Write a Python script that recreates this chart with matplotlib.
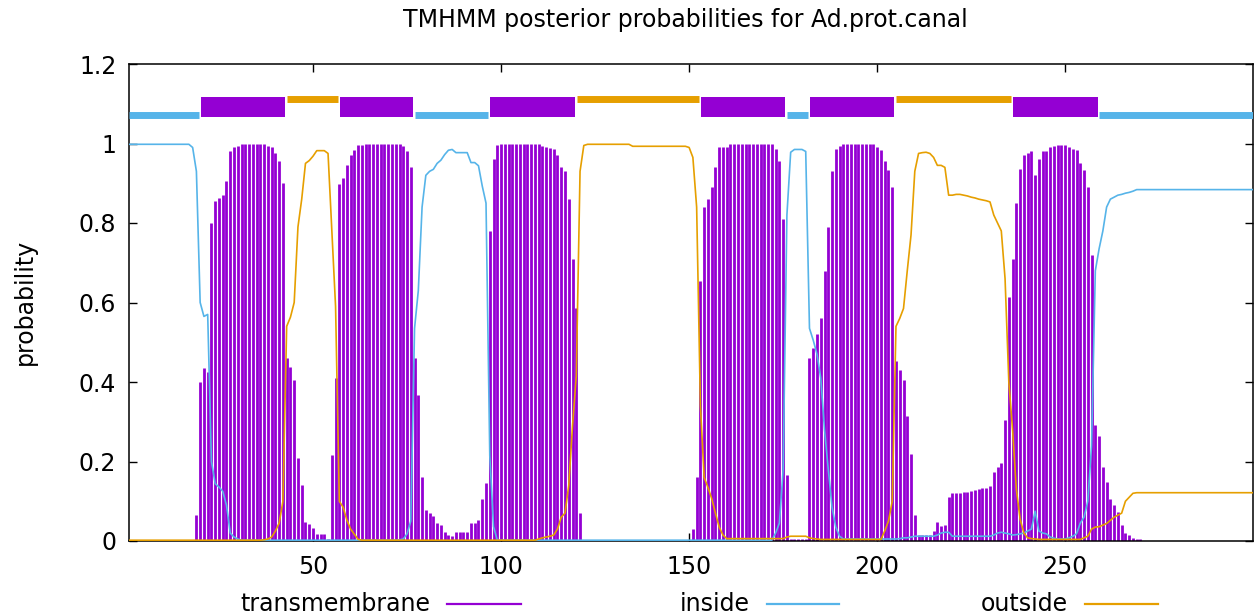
import numpy as np
import matplotlib
matplotlib.use("Agg")
import matplotlib.pyplot as plt
from matplotlib.lines import Line2D
from matplotlib.ticker import FuncFormatter

# ============================================================
# DATA  (posterior probabilities per residue, residues 1..300)
# ============================================================
TITLE = "TMHMM posterior probabilities for Ad.prot.canal"
SEQ_LEN = 300

tm_prob = [
    0, 0, 0, 0, 0, 0, 0, 0, 0, 0, 0, 0, 0, 0, 0, 0, 0, 0, .065, .40,                         # 1-20
    .434, .425, .80, .856, .864, .87, .906, .98, .99, .993, 1, 1, 1, 1, 1, 1, 1, .994, .99, .975,  # 21-40
    .956, .90, .46, .437, .406, .21, .14, .047, .043, .032, .018, .018, .018, .005, .216, .41, .897, .912, .947, .97,
    .983, .996, .997, .998, 1, 1, 1, 1, 1, 1, 1, 1, 1, .993, .98, .94, .46, .367, .16, .078,
    .07, .064, .046, .04, .023, .015, .013, .023, .023, .023, .023, .046, .046, .054, .105, .147, .78, .96, .997, 1,
    1, 1, 1, 1, 1, 1, 1, 1, 1, 1, .994, .99, .988, .985, .97, .94, .93, .86, .71, .585,      # 101-120
    .07, 0, 0, 0, 0, 0, 0, 0, 0, 0, 0, 0, 0, 0, 0, 0, 0, 0, 0, 0,
    0, 0, 0, 0, 0, 0, 0, 0, 0, 0, .03, .16, .655, .84, .86, .89, .94, .99, .99, .99,
    1, 1, 1, 1, 1, 1, 1, 1, 1, 1, 1, 1, .985, .955, .81, .165, .006, .006, .006, .006,
    .006, .46, .485, .52, .56, .68, .79, .93, .987, .993, 1, 1, 1, 1, 1, 1, 1, 1, 1, .99,
    .983, .955, .933, .89, .452, .43, .406, .315, .22, .065, .015, .015, .015, .015, .025, .047, .037, .04, .11, .122,
    .122, .122, .124, .124, .126, .128, .13, .134, .134, .139, .174, .185, .196, .304, .613, .71, .85, .935, .97, .977,
    .98, .92, .961, .98, .98, .99, .994, .997, .997, .997, .991, .987, .983, .95, .933, .89, .72, .293, .264, .186,
    .149, .105, .09, .074, .04, .02, .015, .007, .005, .004, 0, 0, 0, 0, 0, 0, 0, 0, 0, 0,
    0, 0, 0, 0, 0, 0, 0, 0, 0, 0, 0, 0, 0, 0, 0, 0, 0, 0, 0, 0,                               # 281-300
]

inside_prob = [
    .998, .998, .998, .998, .998, .998, .998, .998, .998, .998, .998, .998, .998, .998, .998, .998, .998, .99, .93, .60,
    .565, .57, .20, .144, .136, .125, .09, .02, .01, .005, .002, .002, .002, .002, .002, .002, .002, .002, .002, .002,
    .002, .002, .002, .002, .002, .002, .002, .002, .002, .002, .002, .002, .002, .002, .002, .002, .002, .002, .002, .002,
    .002, .002, .002, .002, .002, .002, .002, .002, .002, .002, .002, .002, .003, .005, .018, .05, .535, .63, .84, .92,
    .93, .935, .95, .958, .972, .983, .985, .977, .977, .977, .977, .952, .952, .944, .893, .85, .215, .036, .002, .002,
    .002, .002, .002, .002, .002, .002, .002, .002, .002, .002, .002, .002, .002, .002, .002, .002, .002, .002, .002, .002,
    .002, .002, .002, .002, .002, .002, .002, .002, .002, .002, .002, .002, .002, .002, .002, .002, .002, .002, .002, .002,
    .002, .002, .002, .002, .002, .002, .002, .002, .002, .002, .002, .002, .002, .002, .002, .002, .002, .002, .002, .002,
    .002, .002, .002, .002, .002, .002, .002, .002, .002, .002, .002, .002, .02, .045, .18, .82, .978, .985, .985, .985,
    .98, .535, .505, .47, .41, .28, .18, .085, .035, .012, .005, .005, .005, .005, .005, .005, .005, .005, .005, .005,
    .005, .005, .005, .005, .005, .006, .008, .008, .01, .012, .012, .012, .012, .012, .012, .015, .02, .022, .022, .012,
    .012, .012, .012, .012, .012, .012, .012, .012, .012, .012, .015, .02, .022, .02, .018, .015, .016, .018, .02, .025,
    .03, .075, .025, .02, .018, .01, .007, .005, .005, .005, .008, .012, .018, .045, .06, .10, .24, .68, .735, .78,
    .84, .86, .865, .87, .872, .875, .877, .88, .884, .884, .884, .884, .884, .884, .884, .884, .884, .884, .884, .884,
    .884, .884, .884, .884, .884, .884, .884, .884, .884, .884, .884, .884, .884, .884, .884, .884, .884, .884, .884, .884,
]

outside_prob = [
    .002, .002, .002, .002, .002, .002, .002, .002, .002, .002, .002, .002, .002, .002, .002, .002, .002, .002, .002, .002,
    .002, .002, .002, .002, .002, .002, .002, .002, .002, .002, .002, .002, .002, .002, .002, .002, .003, .005, .01, .025,
    .045, .10, .54, .563, .60, .79, .86, .95, .957, .968, .982, .982, .982, .975, .784, .59, .10, .085, .053, .03,
    .017, .004, .002, .002, .002, .002, .002, .002, .002, .002, .002, .002, .002, .002, .002, .002, .002, .002, .002, .002,
    .002, .002, .002, .002, .002, .002, .002, .002, .002, .002, .002, .002, .002, .002, .002, .002, .002, .002, .002, .002,
    .002, .002, .002, .002, .002, .002, .002, .002, .002, .005, .008, .01, .012, .015, .03, .06, .07, .14, .29, .415,
    .93, .995, .998, .998, .998, .998, .998, .998, .998, .998, .998, .998, .998, .998, .993, .993, .993, .993, .993, .993,
    .993, .993, .993, .993, .993, .993, .993, .993, .993, .99, .965, .84, .34, .16, .135, .107, .07, .035, .015, .006,
    .006, .006, .006, .006, .006, .006, .006, .006, .006, .006, .006, .006, .006, .006, .006, .01, .012, .012, .012, .012,
    .012, .008, .006, .005, .004, .004, .004, .004, .004, .004, .004, .004, .004, .004, .004, .004, .004, .004, .004, .004,
    .004, .025, .05, .10, .54, .56, .585, .68, .77, .93, .975, .977, .978, .975, .965, .945, .945, .94, .87, .87,
    .872, .872, .87, .868, .865, .863, .86, .858, .856, .853, .82, .80, .78, .66, .40, .28, .13, .055, .02, .008,
    .006, .005, .004, .004, .004, .004, .004, .004, .004, .004, .004, .004, .004, .004, .008, .012, .03, .035, .036, .04,
    .044, .052, .06, .065, .07, .10, .11, .12, .1215, .1215, .1215, .1215, .1215, .1215, .1215, .1215, .1215, .1215, .1215, .1215,
    .1215, .1215, .1215, .1215, .1215, .1215, .1215, .1215, .1215, .1215, .1215, .1215, .1215, .1215, .1215, .1215, .1215, .1215, .1215, .1215,
]

# predicted topology
seg_start = [1, 20, 43, 57, 77, 97, 120, 153, 176, 182, 205, 236, 259]
seg_end = [19, 42, 56, 76, 96, 119, 152, 175, 181, 204, 235, 258, 300]
seg_kind = ["inside", "TMhelix", "outside", "TMhelix", "inside", "TMhelix", "outside",
            "TMhelix", "inside", "TMhelix", "outside", "TMhelix", "inside"]

x_ticks = [50, 100, 150, 200, 250]
y_ticks = [0, 0.2, 0.4, 0.6, 0.8, 1.0, 1.2]

PURPLE = "#9400d3"
CYAN = "#56b4e9"
ORANGE = "#e69f00"

# ============================================================
# Plot
# ============================================================
W, H = 1254, 616
plt.rcParams["font.family"] = ["DejaVu Sans"]
FS = 17

fig = plt.figure(figsize=(W / 100, H / 100), dpi=100)
ax = fig.add_axes([128.7 / W, 1 - 541 / H, (1253.3 - 128.7) / W, (541 - 64) / H])

res = np.arange(1, SEQ_LEN + 1)
ax.vlines(res, 0, tm_prob, color=PURPLE, lw=2.0, zorder=2)
ax.plot(res, inside_prob, color=CYAN, lw=1.2, zorder=3)
ax.plot(res, outside_prob, color=ORANGE, lw=1.2, zorder=3)

# topology bars above the curves
seg_style = {
    "inside": (CYAN, 1.072, 5.0),
    "outside": (ORANGE, 1.113, 5.0),
    "TMhelix": (PURPLE, 1.093, 14.4),
}
for s, e, kind in zip(seg_start, seg_end, seg_kind):
    c, yy, w = seg_style[kind]
    ax.plot([s + 0.1, e + 0.6], [yy, yy], color=c, lw=w, solid_capstyle="butt", zorder=4)

ax.set_xlim(1, SEQ_LEN)
ax.set_ylim(0, 1.2)
ax.set_xticks(x_ticks)
ax.set_yticks(y_ticks)
ax.yaxis.set_major_formatter(FuncFormatter(lambda v, p: f"{v:g}"))
ax.tick_params(direction="in", length=5.5, width=1.0, top=True, right=True,
               labelsize=FS, colors="black")
ax.tick_params(axis="y", pad=9)
ax.tick_params(axis="x", pad=10)
for sp in ax.spines.values():
    sp.set_linewidth(1.1)

fig.text(685 / W, 1 - 20 / H, TITLE, ha="center", va="center", fontsize=FS)
fig.text(25 / W, 1 - 302 / H, "probability", rotation=90, ha="center", va="center", fontsize=FS)

# key below the plot
key_y = 1 - 604 / H
key = [("transmembrane", PURPLE, 430, 447, 521),
       ("inside", CYAN, 750, 767, 839),
       ("outside", ORANGE, 1068, 1085, 1158)]
for label, col, tx, x0, x1 in key:
    fig.text(tx / W, key_y, label, ha="right", va="center", fontsize=FS)
    fig.add_artist(Line2D([x0 / W, x1 / W], [key_y, key_y], color=col, lw=1.6,
                          transform=fig.transFigure))

fig.savefig("out.png", dpi=100)
